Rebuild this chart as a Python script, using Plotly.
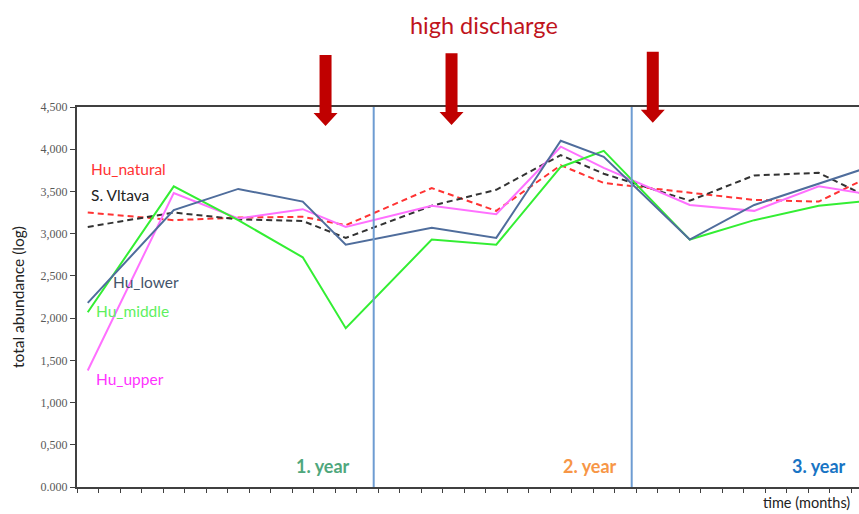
import plotly.graph_objects as go

# sampling months (1-based); plotted at the centre of each month slot
months = [1, 5, 8, 11, 13, 17, 20, 23, 25, 29, 32, 35, 37]

hu_natural = [3.25, 3.16, 3.19, 3.20, 3.10, 3.54, 3.27, 3.81, 3.60, 3.49, 3.40, 3.38, 3.63]
s_vltava   = [3.08, 3.25, 3.17, 3.15, 2.95, 3.33, 3.52, 3.93, 3.71, 3.39, 3.69, 3.72, 3.47]
hu_lower   = [2.18, 3.28, 3.53, 3.38, 2.87, 3.07, 2.95, 4.10, 3.91, 2.93, 3.34, 3.59, 3.76]
hu_middle  = [2.07, 3.56, 3.16, 2.72, 1.88, 2.93, 2.87, 3.79, 3.98, 2.93, 3.16, 3.33, 3.38]
hu_upper   = [1.38, 3.48, 3.18, 3.29, 3.08, 3.33, 3.23, 4.03, 3.78, 3.34, 3.27, 3.56, 3.48]

y_tickvals = [0, 0.5, 1, 1.5, 2, 2.5, 3, 3.5, 4, 4.5]
y_ticktext = ["0.000", "0,500", "1,000", "1,500", "2,000", "2,500", "3,000", "3,500", "4,000", "4,500"]

year_bounds = [13.8, 25.8]
year_labels = ["1. year", "2. year", "3. year"]
year_label_x = [11.44, 23.85, 34.5]
year_colors = ["#4FA77C", "#F79646", "#1874C4"]

discharge_x = [11.56, 17.42, 26.78]

x = [m - 0.5 for m in months]

W, H = 859, 514
L, R, T, B = 77, 0, 107, 27
XMAX = (W - L) / 21.5

fig = go.Figure()

series = [
    ("Hu_natural", hu_natural, "#FF3333", "6px,4px"),
    ("S. Vltava", s_vltava, "#333333", "6px,4px"),
    ("Hu_upper", hu_upper, "#FF70FF", "solid"),
    ("Hu_middle", hu_middle, "#33EE33", "solid"),
    ("Hu_lower", hu_lower, "#4F6D9C", "solid"),
]
for name, vals, col, dash in series:
    fig.add_trace(go.Scatter(x=x, y=vals, mode="lines", name=name,
                             line=dict(color=col, width=2, dash=dash),
                             showlegend=False))

shapes = []
for xb in year_bounds:
    shapes.append(dict(type="line", xref="x", yref="paper", x0=xb, x1=xb,
                       y0=0, y1=1, line=dict(color="#6E9CD2", width=2)))

ph = H - T - B
def py(p):
    return (H - B - p) / ph

arrow_tops = [55, 53.3, 51.7]
arrow_tips = [126, 125, 122.7]
for xc, top, tip in zip(discharge_x, arrow_tops, arrow_tips):
    sw = 6 / 21.5
    hw = 12 / 21.5
    neck = tip - 13
    path = (f"M {xc - sw} {py(top)} L {xc + sw} {py(top)} L {xc + sw} {py(neck)} "
            f"L {xc + hw} {py(neck)} L {xc} {py(tip)} L {xc - hw} {py(neck)} "
            f"L {xc - sw} {py(neck)} Z")
    shapes.append(dict(type="path", xref="x", yref="paper", path=path,
                       fillcolor="#C00000", line=dict(width=0)))

ann = []
def label(text, px, pyy, color, size=15, bold=False, xanchor="left"):
    ann.append(dict(text=f"<b>{text}</b>" if bold else text,
                    x=(px - L) / (W - L - R), y=py(pyy), xref="paper", yref="paper",
                    showarrow=False, xanchor=xanchor, yanchor="middle",
                    font=dict(family="Lato", size=size, color=color)))

label("Hu_natural", 89, 169, "#FF3333", size=15.5)
label("S. Vltava", 89, 195, "#222222", size=15.5)
label("Hu_lower", 111, 282, "#44546A", size=15.5)
label("Hu_middle", 94, 311, "#5EF05E", size=15.5)
label("Hu_upper", 94, 379, "#FF33FF", size=15.5)
label("high discharge", 484, 25, "#C0141C", size=23.5, xanchor="center")
label("time (months)", 761, 503, "#222222", size=14.5)

for txt, xl, col in zip(year_labels, year_label_x, year_colors):
    ann.append(dict(text=f"<b>{txt}</b>", x=xl, y=py(466), xref="x", yref="paper",
                    showarrow=False, xanchor="center", yanchor="middle",
                    font=dict(family="Lato", size=18, color=col)))

fig.update_layout(
    width=W, height=H,
    margin=dict(l=L, r=R, t=T, b=B),
    paper_bgcolor="white", plot_bgcolor="white",
    shapes=shapes, annotations=ann,
    xaxis=dict(range=[0, XMAX], showgrid=False, zeroline=False,
               showline=True, linecolor="#404040", linewidth=2, mirror=True,
               ticks="outside", ticklen=4, tickwidth=1, tickcolor="#404040",
               tick0=0, dtick=1, showticklabels=False),
    yaxis=dict(range=[0, 4.5], showgrid=False, zeroline=False,
               showline=True, linecolor="#404040", linewidth=2,
               ticks="outside", ticklen=5, tickwidth=1, tickcolor="#404040",
               tickvals=y_tickvals, ticktext=y_ticktext,
               tickfont=dict(family="Liberation Serif", size=12, color="#595959"),
               title=dict(text="total abundance (log)", standoff=12,
                          font=dict(family="Lato", size=15.5, color="#222222"))),
)

fig.write_html("out.html")
